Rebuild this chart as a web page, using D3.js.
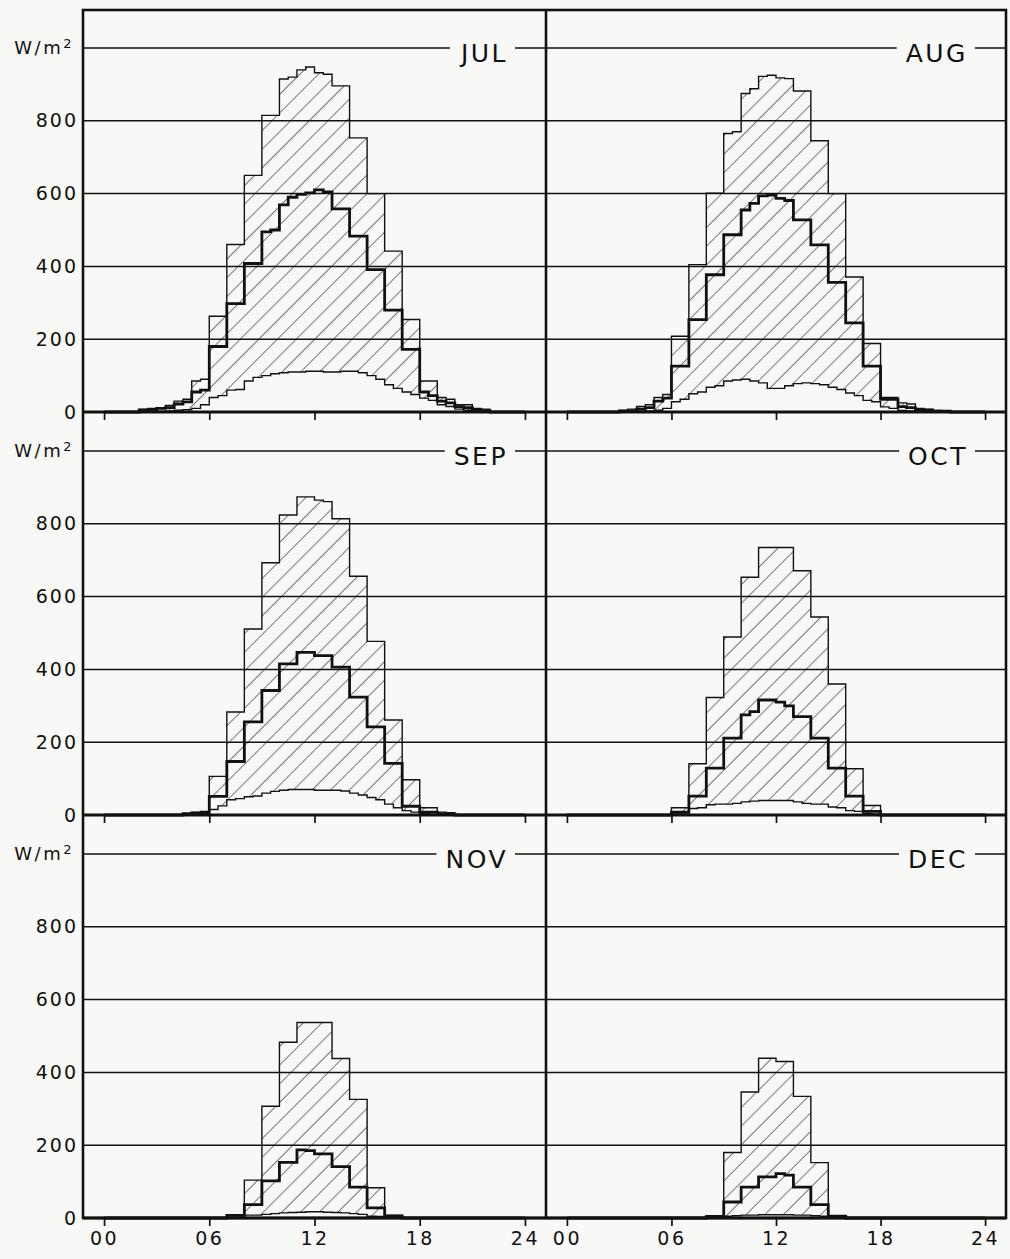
<!DOCTYPE html>
<html>
<head>
<meta charset="utf-8">
<script src="https://cdn.jsdelivr.net/npm/d3@7"></script>
<style>
  body { margin: 0; background: #f8f8f6; }
  svg { display: block; }
  text { font-family: "DejaVu Sans", "Liberation Sans", sans-serif; fill: #111; }
</style>
</head>
<body>
<svg id="chart" width="1010" height="1259"></svg>
<script>
// Half-hourly global radiation (W/m²), 48 bins from 00:00: maximum, mean and minimum per month.
const months = ["JUL", "AUG", "SEP", "OCT", "NOV", "DEC"];
const hourTicks = [0, 6, 12, 18, 24];
const hourLabels = ["00", "06", "12", "18", "24"];
const valueTicks = [0, 200, 400, 600, 800, 1000];
const unitBase = "W/m";
const unitPower = "2";

const julMax  = [0,0, 0,0, 8,10, 12,18, 30,35, 85,90, 263,263, 460,460, 650,650, 815,815, 915,920, 940,948, 932,928, 896,896, 753,753, 600,600, 442,442, 254,254, 85,85, 40,35, 20,20, 10,8, 0,0, 0,0];
const julMean = [0,0, 0,0, 5,6, 10,12, 22,28, 55,60, 180,180, 298,298, 408,408, 495,500, 569,590, 598,602, 610,605, 558,558, 483,483, 391,391, 280,280, 172,172, 55,45, 30,25, 15,12, 6,4, 0,0, 0,0];
const julMin  = [0,0, 0,0, 0,0, 2,3, 5,6, 10,20, 40,45, 60,62, 85,95, 100,105, 108,110, 110,112, 112,110, 110,112, 112,108, 100,90, 75,65, 55,48, 38,32, 20,15, 8,5, 3,2, 0,0, 0,0];

const augMax  = [0,0, 0,0, 0,0, 5,8, 15,20, 40,48, 208,208, 405,405, 601,601, 765,770, 875,888, 922,925, 918,916, 882,882, 745,745, 600,600, 371,371, 188,188, 40,40, 25,22, 10,8, 4,3, 0,0, 0,0];
const augMean = [0,0, 0,0, 0,0, 2,3, 8,12, 30,38, 126,126, 254,254, 377,377, 487,487, 555,573, 594,596, 587,581, 528,528, 459,459, 356,356, 245,245, 126,126, 35,35, 15,12, 6,5, 2,2, 0,0, 0,0];
const augMin  = [0,0, 0,0, 0,0, 0,0, 2,3, 5,10, 28,35, 50,55, 68,72, 85,88, 90,85, 80,65, 65,72, 78,80, 78,75, 68,62, 52,45, 32,28, 14,10, 4,3, 2,1, 0,0, 0,0, 0,0];

const sepMax  = [0,0, 0,0, 0,0, 0,0, 0,5, 8,10, 106,106, 283,283, 511,511, 693,693, 824,824, 874,874, 865,861, 814,814, 656,656, 477,477, 261,261, 97,97, 20,20, 8,6, 0,0, 0,0, 0,0, 0,0];
const sepMean = [0,0, 0,0, 0,0, 0,0, 0,3, 5,6, 51,51, 147,147, 256,256, 342,342, 415,415, 447,447, 438,438, 406,406, 324,324, 242,242, 142,142, 24,24, 8,8, 3,2, 0,0, 0,0, 0,0, 0,0];
const sepMin  = [0,0, 0,0, 0,0, 0,0, 0,1, 2,3, 15,25, 42,45, 50,52, 60,65, 68,70, 70,70, 68,68, 68,66, 60,55, 48,42, 30,20, 12,8, 4,2, 0,0, 0,0, 0,0, 0,0, 0,0];

const octMax  = [0,0, 0,0, 0,0, 0,0, 0,0, 0,0, 20,20, 141,141, 323,323, 489,489, 653,653, 735,735, 735,735, 671,671, 544,544, 360,360, 127,127, 26,26, 0,0, 0,0, 0,0, 0,0, 0,0, 0,0];
const octMean = [0,0, 0,0, 0,0, 0,0, 0,0, 0,0, 8,8, 52,52, 129,129, 211,211, 275,284, 316,316, 310,300, 270,270, 211,211, 129,129, 52,52, 10,10, 0,0, 0,0, 0,0, 0,0, 0,0, 0,0];
const octMin  = [0,0, 0,0, 0,0, 0,0, 0,0, 0,0, 3,3, 18,20, 28,30, 30,32, 36,38, 40,40, 40,40, 36,32, 30,30, 22,20, 12,10, 4,3, 0,0, 0,0, 0,0, 0,0, 0,0, 0,0];

const novMax  = [0,0, 0,0, 0,0, 0,0, 0,0, 0,0, 0,0, 9,9, 104,104, 307,307, 483,483, 537,537, 537,537, 438,438, 326,326, 83,83, 7,7, 0,0, 0,0, 0,0, 0,0, 0,0, 0,0, 0,0];
const novMean = [0,0, 0,0, 0,0, 0,0, 0,0, 0,0, 0,0, 7,7, 37,37, 102,102, 153,153, 187,185, 176,176, 141,141, 85,85, 28,28, 6,6, 0,0, 0,0, 0,0, 0,0, 0,0, 0,0, 0,0];
const novMin  = [0,0, 0,0, 0,0, 0,0, 0,0, 0,0, 0,0, 2,2, 8,8, 10,12, 14,15, 16,17, 17,16, 15,14, 12,10, 5,4, 1,1, 0,0, 0,0, 0,0, 0,0, 0,0, 0,0, 0,0];

const decMax  = [0,0, 0,0, 0,0, 0,0, 0,0, 0,0, 0,0, 0,0, 6,6, 180,180, 346,346, 439,439, 430,430, 334,334, 152,152, 6,6, 0,0, 0,0, 0,0, 0,0, 0,0, 0,0, 0,0, 0,0];
const decMean = [0,0, 0,0, 0,0, 0,0, 0,0, 0,0, 0,0, 0,0, 4,4, 44,44, 85,85, 113,113, 122,118, 85,85, 37,37, 5,5, 0,0, 0,0, 0,0, 0,0, 0,0, 0,0, 0,0, 0,0];
const decMin  = [0,0, 0,0, 0,0, 0,0, 0,0, 0,0, 0,0, 0,0, 1,1, 5,6, 8,8, 9,9, 9,9, 8,8, 6,5, 1,1, 0,0, 0,0, 0,0, 0,0, 0,0, 0,0, 0,0, 0,0];

const series = {
  JUL: { max: julMax, mean: julMean, min: julMin },
  AUG: { max: augMax, mean: augMean, min: augMin },
  SEP: { max: sepMax, mean: sepMean, min: sepMin },
  OCT: { max: octMax, mean: octMean, min: octMin },
  NOV: { max: novMax, mean: novMean, min: novMin },
  DEC: { max: decMax, mean: decMean, min: decMin }
};

const svg = d3.select("#chart");
const ink = "#111";

// Panel frame geometry
const colX = [83, 546, 1006];
const rowTop = [10, 412, 815];
const rowZero = [412, 815, 1218];
const unitPx = 364; // height of 1000 W/m²

// Diagonal hatch
const defs = svg.append("defs");
defs.append("pattern")
  .attr("id", "hatch")
  .attr("patternUnits", "userSpaceOnUse")
  .attr("width", 13.2).attr("height", 13.2)
  .attr("patternTransform", "rotate(45)")
  .append("line")
  .attr("x1", 0).attr("y1", -1).attr("x2", 0).attr("y2", 15)
  .attr("stroke", ink).attr("stroke-width", 1.1);

// Turn a 48-bin series into step points ending at 24:00
function steps(vals) {
  const pts = vals.map((v, i) => [i * 0.5, v]);
  pts.push([24, vals[vals.length - 1]]);
  return pts;
}

months.forEach((m, k) => {
  const col = k % 2, row = Math.floor(k / 2);
  const x0 = colX[col], x1 = colX[col + 1];
  const zero = rowZero[row];
  const x = d3.scaleLinear().domain([-1.2, 25.2]).range([x0, x1]);
  const y = d3.scaleLinear().domain([0, 1000]).range([zero, zero - unitPx]);
  const g = svg.append("g");
  const d = series[m];

  // Horizontal grid
  g.selectAll("line.grid").data(valueTicks.slice(1, 5)).enter().append("line")
    .attr("x1", x0).attr("x2", x1).attr("y1", v => y(v)).attr("y2", v => y(v))
    .attr("stroke", ink).attr("stroke-width", 1.5);

  // Month label on the 1000 line
  const label = g.append("text")
    .attr("x", x1 - 38).attr("y", y(1000) + 14)
    .attr("text-anchor", "end")
    .attr("font-size", 25).attr("letter-spacing", "2.5px")
    .text(m);
  const bb = label.node().getBBox();
  g.append("line").attr("x1", x0).attr("x2", bb.x - 9)
    .attr("y1", y(1000)).attr("y2", y(1000)).attr("stroke", ink).attr("stroke-width", 1.5);
  g.append("line").attr("x1", bb.x + bb.width + 7).attr("x2", x1)
    .attr("y1", y(1000)).attr("y2", y(1000)).attr("stroke", ink).attr("stroke-width", 1.5);

  // Hatched band between minimum and maximum
  const band = d3.range(48).map(i => ({ t: i * 0.5, lo: d.min[i], hi: d.max[i] }));
  band.push({ t: 24, lo: d.min[47], hi: d.max[47] });
  g.append("path").datum(band)
    .attr("d", d3.area().curve(d3.curveStepAfter)
      .x(p => x(p.t)).y0(p => y(p.lo)).y1(p => y(p.hi)))
    .attr("fill", "url(#hatch)");

  const line = d3.line().curve(d3.curveStepAfter).x(p => x(p[0])).y(p => y(p[1]));
  g.append("path").datum(steps(d.min)).attr("d", line)
    .attr("fill", "none").attr("stroke", ink).attr("stroke-width", 1.4);
  g.append("path").datum(steps(d.max)).attr("d", line)
    .attr("fill", "none").attr("stroke", ink).attr("stroke-width", 1.4);
  g.append("path").datum(steps(d.mean)).attr("d", line)
    .attr("fill", "none").attr("stroke", ink).attr("stroke-width", 2.8)
    .attr("stroke-linejoin", "miter");

  // Hour axis below each panel
  const xAxis = d3.axisBottom(x).tickValues(hourTicks).tickSize(8).tickPadding(6)
    .tickFormat((t, i) => row === 2 ? hourLabels[i] : "");
  const ax = g.append("g").attr("transform", `translate(0,${zero})`).call(xAxis);
  ax.select(".domain").remove();
  ax.selectAll(".tick line").attr("stroke", ink).attr("stroke-width", 1.7);
  ax.selectAll(".tick text").attr("font-size", 19).attr("letter-spacing", "2.5px")
    .attr("font-family", "DejaVu Sans, sans-serif").attr("fill", ink);

  // Value axis on the left column
  if (col === 0) {
    const yAxis = d3.axisLeft(y).tickValues(valueTicks.slice(0, 5)).tickSize(0).tickPadding(5)
      .tickFormat(v => v);
    const ay = g.append("g").attr("transform", `translate(${x0},0)`).call(yAxis);
    ay.select(".domain").remove();
    ay.selectAll(".tick text").attr("font-size", 19).attr("letter-spacing", "2px")
      .attr("font-family", "DejaVu Sans, sans-serif").attr("fill", ink);

    // Unit label on the 1000 line
    const u = g.append("text")
      .attr("x", x0 - 9).attr("y", y(1000) + 6)
      .attr("text-anchor", "end")
      .attr("font-size", 18).attr("letter-spacing", "2.5px");
    u.append("tspan").text(unitBase);
    u.append("tspan").attr("font-size", 13).attr("dy", -6).text(unitPower);
  }

  // Zero line
  g.append("line").attr("x1", x0).attr("x2", x1).attr("y1", zero).attr("y2", zero)
    .attr("stroke", ink).attr("stroke-width", 3);
});

// Outer frame and column divider
svg.append("rect").attr("x", colX[0]).attr("y", rowTop[0])
  .attr("width", colX[2] - colX[0]).attr("height", rowZero[2] - rowTop[0])
  .attr("fill", "none").attr("stroke", ink).attr("stroke-width", 2.6);
svg.append("line").attr("x1", colX[1]).attr("x2", colX[1])
  .attr("y1", rowTop[0]).attr("y2", rowZero[2])
  .attr("stroke", ink).attr("stroke-width", 2.6);
</script>
</body>
</html>
